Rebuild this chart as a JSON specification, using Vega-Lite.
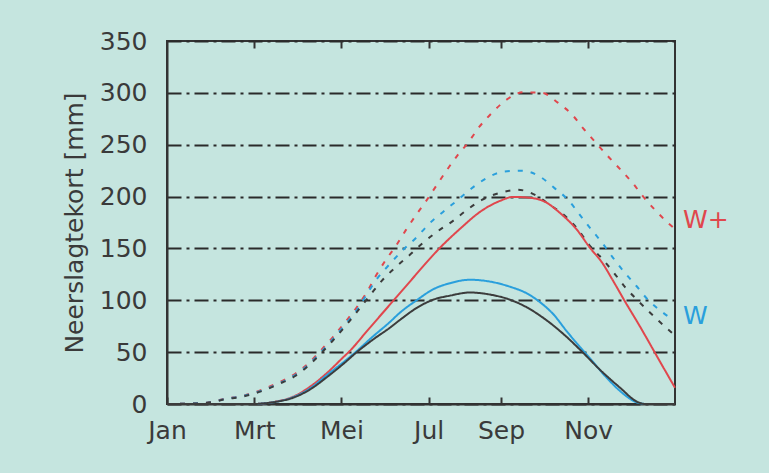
{
  "$schema": "https://vega.github.io/schema/vega-lite/v6.json",
  "width": 508,
  "height": 363,
  "autosize": {"type": "none"},
  "padding": {"left": 167, "top": 41, "right": 94, "bottom": 69},
  "background": "#c5e5df",
  "config": {
    "font": "DejaVu Sans",
    "view": {"stroke": "#333333", "strokeWidth": 2},
    "axis": {"labelFont": "DejaVu Sans", "titleFont": "DejaVu Sans", "labelColor": "#3a3a3a", "titleColor": "#3a3a3a", "labelFontSize": 25, "titleFontSize": 25, "titleFontWeight": "normal"}
  },
  "datasets": {
    "lijnen": [
      {"maand": 0, "mm": 0, "scenario": "W+", "jaar": "droog"},
      {"maand": 0.48, "mm": 0.3, "scenario": "W+", "jaar": "droog"},
      {"maand": 0.92, "mm": 1.3, "scenario": "W+", "jaar": "droog"},
      {"maand": 1.33, "mm": 5.1, "scenario": "W+", "jaar": "droog"},
      {"maand": 1.74, "mm": 8.0, "scenario": "W+", "jaar": "droog"},
      {"maand": 2.18, "mm": 13.8, "scenario": "W+", "jaar": "droog"},
      {"maand": 2.55, "mm": 20.5, "scenario": "W+", "jaar": "droog"},
      {"maand": 2.94, "mm": 29.2, "scenario": "W+", "jaar": "droog"},
      {"maand": 3.26, "mm": 39.8, "scenario": "W+", "jaar": "droog"},
      {"maand": 3.56, "mm": 53.2, "scenario": "W+", "jaar": "droog"},
      {"maand": 3.81, "mm": 64.8, "scenario": "W+", "jaar": "droog"},
      {"maand": 4.11, "mm": 80.2, "scenario": "W+", "jaar": "droog"},
      {"maand": 4.36, "mm": 93.8, "scenario": "W+", "jaar": "droog"},
      {"maand": 4.6, "mm": 109, "scenario": "W+", "jaar": "droog"},
      {"maand": 4.79, "mm": 123.6, "scenario": "W+", "jaar": "droog"},
      {"maand": 5.02, "mm": 139, "scenario": "W+", "jaar": "droog"},
      {"maand": 5.25, "mm": 152.4, "scenario": "W+", "jaar": "droog"},
      {"maand": 5.48, "mm": 167.9, "scenario": "W+", "jaar": "droog"},
      {"maand": 5.73, "mm": 183.3, "scenario": "W+", "jaar": "droog"},
      {"maand": 5.96, "mm": 196.8, "scenario": "W+", "jaar": "droog"},
      {"maand": 6.19, "mm": 211.3, "scenario": "W+", "jaar": "droog"},
      {"maand": 6.42, "mm": 225.7, "scenario": "W+", "jaar": "droog"},
      {"maand": 6.67, "mm": 240.2, "scenario": "W+", "jaar": "droog"},
      {"maand": 6.9, "mm": 251.7, "scenario": "W+", "jaar": "droog"},
      {"maand": 7.16, "mm": 267.1, "scenario": "W+", "jaar": "droog"},
      {"maand": 7.45, "mm": 280.6, "scenario": "W+", "jaar": "droog"},
      {"maand": 7.78, "mm": 293.2, "scenario": "W+", "jaar": "droog"},
      {"maand": 8.17, "mm": 300.5, "scenario": "W+", "jaar": "droog"},
      {"maand": 8.6, "mm": 300, "scenario": "W+", "jaar": "droog"},
      {"maand": 8.97, "mm": 290.3, "scenario": "W+", "jaar": "droog"},
      {"maand": 9.29, "mm": 279, "scenario": "W+", "jaar": "droog"},
      {"maand": 9.54, "mm": 266, "scenario": "W+", "jaar": "droog"},
      {"maand": 9.84, "mm": 251.7, "scenario": "W+", "jaar": "droog"},
      {"maand": 10.11, "mm": 239, "scenario": "W+", "jaar": "droog"},
      {"maand": 10.39, "mm": 226.5, "scenario": "W+", "jaar": "droog"},
      {"maand": 10.67, "mm": 213.5, "scenario": "W+", "jaar": "droog"},
      {"maand": 10.92, "mm": 200, "scenario": "W+", "jaar": "droog"},
      {"maand": 11.19, "mm": 187.2, "scenario": "W+", "jaar": "droog"},
      {"maand": 11.49, "mm": 174.6, "scenario": "W+", "jaar": "droog"},
      {"maand": 11.65, "mm": 168.8, "scenario": "W+", "jaar": "droog"},

      {"maand": 0, "mm": 0, "scenario": "W", "jaar": "droog"},
      {"maand": 0.48, "mm": 0.3, "scenario": "W", "jaar": "droog"},
      {"maand": 0.92, "mm": 1.2, "scenario": "W", "jaar": "droog"},
      {"maand": 1.33, "mm": 4.8, "scenario": "W", "jaar": "droog"},
      {"maand": 1.74, "mm": 7.6, "scenario": "W", "jaar": "droog"},
      {"maand": 2.18, "mm": 13, "scenario": "W", "jaar": "droog"},
      {"maand": 2.55, "mm": 19.5, "scenario": "W", "jaar": "droog"},
      {"maand": 2.94, "mm": 28, "scenario": "W", "jaar": "droog"},
      {"maand": 3.26, "mm": 38.5, "scenario": "W", "jaar": "droog"},
      {"maand": 3.56, "mm": 51.5, "scenario": "W", "jaar": "droog"},
      {"maand": 3.81, "mm": 63, "scenario": "W", "jaar": "droog"},
      {"maand": 4.11, "mm": 78, "scenario": "W", "jaar": "droog"},
      {"maand": 4.36, "mm": 91, "scenario": "W", "jaar": "droog"},
      {"maand": 4.6, "mm": 107, "scenario": "W", "jaar": "droog"},
      {"maand": 4.84, "mm": 122, "scenario": "W", "jaar": "droog"},
      {"maand": 5.11, "mm": 135, "scenario": "W", "jaar": "droog"},
      {"maand": 5.41, "mm": 148.5, "scenario": "W", "jaar": "droog"},
      {"maand": 5.73, "mm": 161, "scenario": "W", "jaar": "droog"},
      {"maand": 6.01, "mm": 173.7, "scenario": "W", "jaar": "droog"},
      {"maand": 6.33, "mm": 185.2, "scenario": "W", "jaar": "droog"},
      {"maand": 6.67, "mm": 196.8, "scenario": "W", "jaar": "droog"},
      {"maand": 7.0, "mm": 208.4, "scenario": "W", "jaar": "droog"},
      {"maand": 7.34, "mm": 218, "scenario": "W", "jaar": "droog"},
      {"maand": 7.71, "mm": 224, "scenario": "W", "jaar": "droog"},
      {"maand": 8.14, "mm": 225, "scenario": "W", "jaar": "droog"},
      {"maand": 8.56, "mm": 219, "scenario": "W", "jaar": "droog"},
      {"maand": 8.88, "mm": 208.4, "scenario": "W", "jaar": "droog"},
      {"maand": 9.2, "mm": 196.8, "scenario": "W", "jaar": "droog"},
      {"maand": 9.45, "mm": 183.3, "scenario": "W", "jaar": "droog"},
      {"maand": 9.7, "mm": 169.8, "scenario": "W", "jaar": "droog"},
      {"maand": 9.98, "mm": 155.4, "scenario": "W", "jaar": "droog"},
      {"maand": 10.23, "mm": 140.9, "scenario": "W", "jaar": "droog"},
      {"maand": 10.48, "mm": 127.5, "scenario": "W", "jaar": "droog"},
      {"maand": 10.76, "mm": 114, "scenario": "W", "jaar": "droog"},
      {"maand": 11.03, "mm": 100.5, "scenario": "W", "jaar": "droog"},
      {"maand": 11.35, "mm": 88.9, "scenario": "W", "jaar": "droog"},
      {"maand": 11.54, "mm": 83, "scenario": "W", "jaar": "droog"},

      {"maand": 0, "mm": 0, "scenario": "huidig", "jaar": "droog"},
      {"maand": 0.48, "mm": 0.3, "scenario": "huidig", "jaar": "droog"},
      {"maand": 0.92, "mm": 1.1, "scenario": "huidig", "jaar": "droog"},
      {"maand": 1.33, "mm": 4.5, "scenario": "huidig", "jaar": "droog"},
      {"maand": 1.74, "mm": 7.2, "scenario": "huidig", "jaar": "droog"},
      {"maand": 2.18, "mm": 12.5, "scenario": "huidig", "jaar": "droog"},
      {"maand": 2.55, "mm": 19, "scenario": "huidig", "jaar": "droog"},
      {"maand": 2.94, "mm": 27, "scenario": "huidig", "jaar": "droog"},
      {"maand": 3.26, "mm": 37.5, "scenario": "huidig", "jaar": "droog"},
      {"maand": 3.56, "mm": 50, "scenario": "huidig", "jaar": "droog"},
      {"maand": 3.81, "mm": 61.5, "scenario": "huidig", "jaar": "droog"},
      {"maand": 4.11, "mm": 76, "scenario": "huidig", "jaar": "droog"},
      {"maand": 4.36, "mm": 89, "scenario": "huidig", "jaar": "droog"},
      {"maand": 4.66, "mm": 105, "scenario": "huidig", "jaar": "droog"},
      {"maand": 4.93, "mm": 119, "scenario": "huidig", "jaar": "droog"},
      {"maand": 5.28, "mm": 133.2, "scenario": "huidig", "jaar": "droog"},
      {"maand": 5.57, "mm": 143.8, "scenario": "huidig", "jaar": "droog"},
      {"maand": 5.87, "mm": 155.4, "scenario": "huidig", "jaar": "droog"},
      {"maand": 6.19, "mm": 166, "scenario": "huidig", "jaar": "droog"},
      {"maand": 6.56, "mm": 176.6, "scenario": "huidig", "jaar": "droog"},
      {"maand": 6.88, "mm": 187.2, "scenario": "huidig", "jaar": "droog"},
      {"maand": 7.22, "mm": 196.8, "scenario": "huidig", "jaar": "droog"},
      {"maand": 7.64, "mm": 203.6, "scenario": "huidig", "jaar": "droog"},
      {"maand": 8.05, "mm": 206.5, "scenario": "huidig", "jaar": "droog"},
      {"maand": 8.44, "mm": 201.7, "scenario": "huidig", "jaar": "droog"},
      {"maand": 8.78, "mm": 192, "scenario": "huidig", "jaar": "droog"},
      {"maand": 9.15, "mm": 180.5, "scenario": "huidig", "jaar": "droog"},
      {"maand": 9.43, "mm": 168, "scenario": "huidig", "jaar": "droog"},
      {"maand": 9.68, "mm": 153.5, "scenario": "huidig", "jaar": "droog"},
      {"maand": 9.98, "mm": 140, "scenario": "huidig", "jaar": "droog"},
      {"maand": 10.23, "mm": 127.5, "scenario": "huidig", "jaar": "droog"},
      {"maand": 10.5, "mm": 113, "scenario": "huidig", "jaar": "droog"},
      {"maand": 10.8, "mm": 99.6, "scenario": "huidig", "jaar": "droog"},
      {"maand": 11.08, "mm": 88, "scenario": "huidig", "jaar": "droog"},
      {"maand": 11.4, "mm": 75.4, "scenario": "huidig", "jaar": "droog"},
      {"maand": 11.58, "mm": 68.7, "scenario": "huidig", "jaar": "droog"},

      {"maand": 0, "mm": 0, "scenario": "W+", "jaar": "gemiddeld"},
      {"maand": 2.0, "mm": 0, "scenario": "W+", "jaar": "gemiddeld"},
      {"maand": 2.13, "mm": 0.3, "scenario": "W+", "jaar": "gemiddeld"},
      {"maand": 2.48, "mm": 2.2, "scenario": "W+", "jaar": "gemiddeld"},
      {"maand": 2.89, "mm": 7, "scenario": "W+", "jaar": "gemiddeld"},
      {"maand": 3.28, "mm": 16.7, "scenario": "W+", "jaar": "gemiddeld"},
      {"maand": 3.67, "mm": 30, "scenario": "W+", "jaar": "gemiddeld"},
      {"maand": 4.04, "mm": 45, "scenario": "W+", "jaar": "gemiddeld"},
      {"maand": 4.2, "mm": 51.5, "scenario": "W+", "jaar": "gemiddeld"},
      {"maand": 4.59, "mm": 70.5, "scenario": "W+", "jaar": "gemiddeld"},
      {"maand": 4.95, "mm": 88, "scenario": "W+", "jaar": "gemiddeld"},
      {"maand": 5.23, "mm": 101.5, "scenario": "W+", "jaar": "gemiddeld"},
      {"maand": 5.57, "mm": 118, "scenario": "W+", "jaar": "gemiddeld"},
      {"maand": 5.92, "mm": 135, "scenario": "W+", "jaar": "gemiddeld"},
      {"maand": 6.26, "mm": 150.6, "scenario": "W+", "jaar": "gemiddeld"},
      {"maand": 6.72, "mm": 168.9, "scenario": "W+", "jaar": "gemiddeld"},
      {"maand": 7.18, "mm": 185.3, "scenario": "W+", "jaar": "gemiddeld"},
      {"maand": 7.64, "mm": 195.9, "scenario": "W+", "jaar": "gemiddeld"},
      {"maand": 7.94, "mm": 199.7, "scenario": "W+", "jaar": "gemiddeld"},
      {"maand": 8.33, "mm": 198.8, "scenario": "W+", "jaar": "gemiddeld"},
      {"maand": 8.67, "mm": 194.9, "scenario": "W+", "jaar": "gemiddeld"},
      {"maand": 9.01, "mm": 184.3, "scenario": "W+", "jaar": "gemiddeld"},
      {"maand": 9.4, "mm": 168, "scenario": "W+", "jaar": "gemiddeld"},
      {"maand": 9.7, "mm": 150.6, "scenario": "W+", "jaar": "gemiddeld"},
      {"maand": 9.98, "mm": 136.2, "scenario": "W+", "jaar": "gemiddeld"},
      {"maand": 10.23, "mm": 118.8, "scenario": "W+", "jaar": "gemiddeld"},
      {"maand": 10.48, "mm": 100.5, "scenario": "W+", "jaar": "gemiddeld"},
      {"maand": 10.85, "mm": 74.5, "scenario": "W+", "jaar": "gemiddeld"},
      {"maand": 11.19, "mm": 49.4, "scenario": "W+", "jaar": "gemiddeld"},
      {"maand": 11.61, "mm": 18.6, "scenario": "W+", "jaar": "gemiddeld"},
      {"maand": 11.65, "mm": 15.7, "scenario": "W+", "jaar": "gemiddeld"},

      {"maand": 0, "mm": 0, "scenario": "W", "jaar": "gemiddeld"},
      {"maand": 2.0, "mm": 0, "scenario": "W", "jaar": "gemiddeld"},
      {"maand": 2.13, "mm": 0.3, "scenario": "W", "jaar": "gemiddeld"},
      {"maand": 2.48, "mm": 2, "scenario": "W", "jaar": "gemiddeld"},
      {"maand": 2.89, "mm": 6.5, "scenario": "W", "jaar": "gemiddeld"},
      {"maand": 3.28, "mm": 15, "scenario": "W", "jaar": "gemiddeld"},
      {"maand": 3.67, "mm": 28, "scenario": "W", "jaar": "gemiddeld"},
      {"maand": 4.08, "mm": 41.5, "scenario": "W", "jaar": "gemiddeld"},
      {"maand": 4.31, "mm": 49.5, "scenario": "W", "jaar": "gemiddeld"},
      {"maand": 4.72, "mm": 65, "scenario": "W", "jaar": "gemiddeld"},
      {"maand": 5.11, "mm": 79, "scenario": "W", "jaar": "gemiddeld"},
      {"maand": 5.34, "mm": 88, "scenario": "W", "jaar": "gemiddeld"},
      {"maand": 5.74, "mm": 100.5, "scenario": "W", "jaar": "gemiddeld"},
      {"maand": 6.1, "mm": 110.5, "scenario": "W", "jaar": "gemiddeld"},
      {"maand": 6.49, "mm": 116.5, "scenario": "W", "jaar": "gemiddeld"},
      {"maand": 6.95, "mm": 119.8, "scenario": "W", "jaar": "gemiddeld"},
      {"maand": 7.41, "mm": 118, "scenario": "W", "jaar": "gemiddeld"},
      {"maand": 7.87, "mm": 113, "scenario": "W", "jaar": "gemiddeld"},
      {"maand": 8.26, "mm": 106.5, "scenario": "W", "jaar": "gemiddeld"},
      {"maand": 8.56, "mm": 98, "scenario": "W", "jaar": "gemiddeld"},
      {"maand": 8.85, "mm": 87, "scenario": "W", "jaar": "gemiddeld"},
      {"maand": 9.17, "mm": 70, "scenario": "W", "jaar": "gemiddeld"},
      {"maand": 9.45, "mm": 56, "scenario": "W", "jaar": "gemiddeld"},
      {"maand": 9.66, "mm": 46, "scenario": "W", "jaar": "gemiddeld"},
      {"maand": 10.09, "mm": 25, "scenario": "W", "jaar": "gemiddeld"},
      {"maand": 10.39, "mm": 12.5, "scenario": "W", "jaar": "gemiddeld"},
      {"maand": 10.78, "mm": 1.5, "scenario": "W", "jaar": "gemiddeld"},
      {"maand": 11.0, "mm": 0, "scenario": "W", "jaar": "gemiddeld"},
      {"maand": 11.65, "mm": 0, "scenario": "W", "jaar": "gemiddeld"},

      {"maand": 0, "mm": 0, "scenario": "huidig", "jaar": "gemiddeld"},
      {"maand": 2.0, "mm": 0, "scenario": "huidig", "jaar": "gemiddeld"},
      {"maand": 2.13, "mm": 0.3, "scenario": "huidig", "jaar": "gemiddeld"},
      {"maand": 2.48, "mm": 2, "scenario": "huidig", "jaar": "gemiddeld"},
      {"maand": 2.89, "mm": 6, "scenario": "huidig", "jaar": "gemiddeld"},
      {"maand": 3.28, "mm": 14, "scenario": "huidig", "jaar": "gemiddeld"},
      {"maand": 3.67, "mm": 26, "scenario": "huidig", "jaar": "gemiddeld"},
      {"maand": 4.08, "mm": 40, "scenario": "huidig", "jaar": "gemiddeld"},
      {"maand": 4.31, "mm": 48.5, "scenario": "huidig", "jaar": "gemiddeld"},
      {"maand": 4.72, "mm": 62, "scenario": "huidig", "jaar": "gemiddeld"},
      {"maand": 5.11, "mm": 73.5, "scenario": "huidig", "jaar": "gemiddeld"},
      {"maand": 5.34, "mm": 81, "scenario": "huidig", "jaar": "gemiddeld"},
      {"maand": 5.74, "mm": 93, "scenario": "huidig", "jaar": "gemiddeld"},
      {"maand": 6.1, "mm": 100.5, "scenario": "huidig", "jaar": "gemiddeld"},
      {"maand": 6.49, "mm": 104.5, "scenario": "huidig", "jaar": "gemiddeld"},
      {"maand": 6.95, "mm": 107.5, "scenario": "huidig", "jaar": "gemiddeld"},
      {"maand": 7.41, "mm": 105.5, "scenario": "huidig", "jaar": "gemiddeld"},
      {"maand": 7.87, "mm": 100.5, "scenario": "huidig", "jaar": "gemiddeld"},
      {"maand": 8.26, "mm": 93, "scenario": "huidig", "jaar": "gemiddeld"},
      {"maand": 8.63, "mm": 83, "scenario": "huidig", "jaar": "gemiddeld"},
      {"maand": 8.79, "mm": 78, "scenario": "huidig", "jaar": "gemiddeld"},
      {"maand": 9.17, "mm": 64.5, "scenario": "huidig", "jaar": "gemiddeld"},
      {"maand": 9.54, "mm": 49.5, "scenario": "huidig", "jaar": "gemiddeld"},
      {"maand": 9.93, "mm": 33, "scenario": "huidig", "jaar": "gemiddeld"},
      {"maand": 10.39, "mm": 15.7, "scenario": "huidig", "jaar": "gemiddeld"},
      {"maand": 10.78, "mm": 2.2, "scenario": "huidig", "jaar": "gemiddeld"},
      {"maand": 10.96, "mm": 0, "scenario": "huidig", "jaar": "gemiddeld"},
      {"maand": 11.65, "mm": 0, "scenario": "huidig", "jaar": "gemiddeld"}
    ],
    "labels": [
      {"maand": 11.65, "mm": 177.5, "label": "W+", "scenario": "W+"},
      {"maand": 11.65, "mm": 85, "label": "W", "scenario": "W"}
    ]
  },
  "layer": [
    {
      "data": {"name": "lijnen"},
      "mark": {"type": "line", "strokeWidth": 2, "interpolate": "monotone"},
      "encoding": {
        "x": {
          "field": "maand", "type": "quantitative",
          "scale": {"domain": [0, 11.65], "nice": false, "zero": false},
          "axis": {
            "title": null, "orient": "bottom",
            "values": [0, 2, 4, 6, 7.66, 9.66],
            "labelExpr": "datum.value == 0 ? 'Jan' : datum.value == 2 ? 'Mrt' : datum.value == 4 ? 'Mei' : datum.value == 6 ? 'Jul' : datum.value < 8 ? 'Sep' : 'Nov'",
            "grid": false, "domain": true, "domainColor": "#333333", "domainWidth": 2,
            "ticks": true, "tickSize": -7, "tickColor": "#333333", "tickWidth": 2,
            "labelPadding": 21, "labelFlush": false, "labelOverlap": false
          }
        },
        "y": {
          "field": "mm", "type": "quantitative",
          "scale": {"domain": [0, 350], "nice": false},
          "axis": {
            "title": "Neerslagtekort [mm]",
            "values": [0, 50, 100, 150, 200, 250, 300, 350],
            "grid": true, "gridColor": "#2a2a2a", "gridWidth": 2, "gridDash": [14, 5, 3, 5],
            "domain": true, "domainColor": "#333333", "domainWidth": 2,
            "ticks": false, "labelPadding": 20, "titlePadding": 12
          }
        },
        "color": {
          "field": "scenario", "type": "nominal",
          "scale": {"domain": ["huidig", "W", "W+"], "range": ["#3c3c3c", "#2a9fdc", "#e0474d"]},
          "legend": null
        },
        "strokeDash": {
          "field": "jaar", "type": "nominal",
          "scale": {"domain": ["gemiddeld", "droog"], "range": [[1, 0], [5, 8]]},
          "legend": null
        },
        "detail": {"field": "jaar"}
      }
    },
    {
      "data": {"name": "labels"},
      "mark": {"type": "text", "align": "left", "baseline": "middle", "dx": 8, "fontSize": 25, "font": "DejaVu Sans"},
      "encoding": {
        "x": {
          "field": "maand", "type": "quantitative",
          "axis": {
            "title": null, "orient": "top", "values": [2, 4, 6, 7.66, 9.66],
            "labels": false, "grid": false, "domain": false,
            "ticks": true, "tickSize": -7, "tickColor": "#333333", "tickWidth": 2
          }
        },
        "y": {"field": "mm", "type": "quantitative"},
        "text": {"field": "label"},
        "color": {"field": "scenario", "type": "nominal", "legend": null}
      }
    }
  ],
  "resolve": {"axis": {"x": "independent"}}
}
